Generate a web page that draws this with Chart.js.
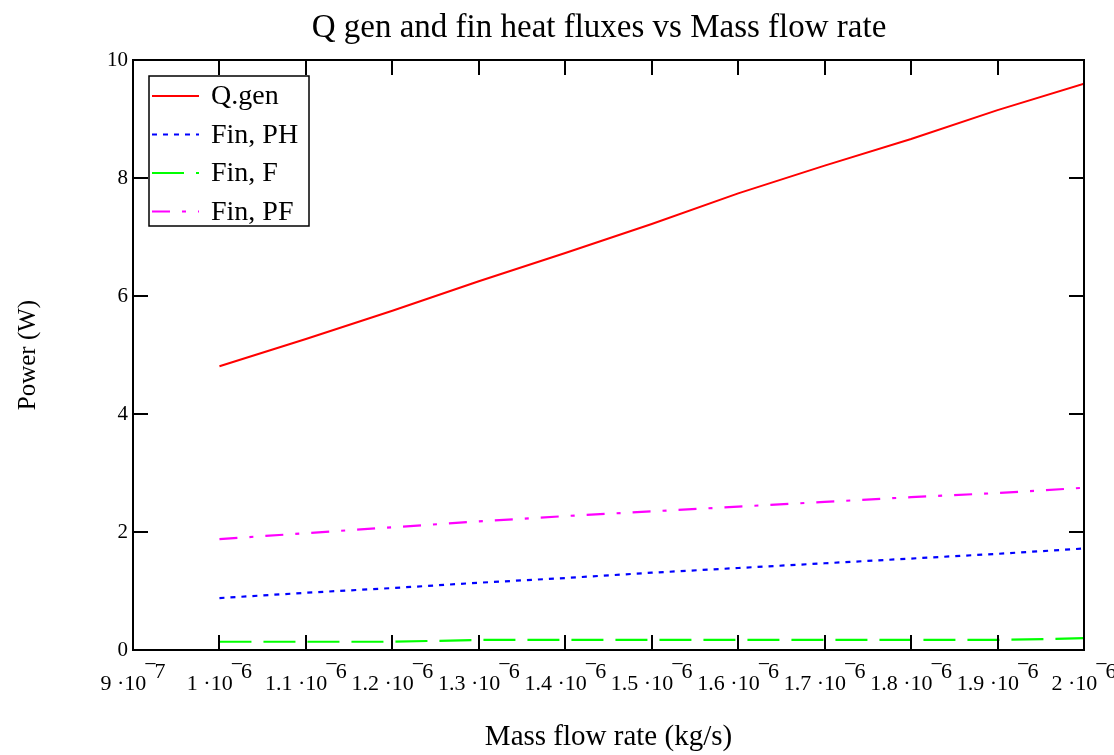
<!DOCTYPE html>
<html lang="en">
<head>
<meta charset="UTF-8">
<title>Q gen and fin heat fluxes vs Mass flow rate</title>
<script src="https://cdn.jsdelivr.net/npm/chart.js"></script>
<style>
    body { margin: 0; background: #ffffff; }
    canvas { display: block; }
</style>
</head>
<body>
<canvas id="fluxChart" width="1114" height="755"></canvas>
<script>
// mass flow rate (kg/s)
const massFlow = [1.0e-6, 1.1e-6, 1.2e-6, 1.3e-6, 1.4e-6, 1.5e-6, 1.6e-6, 1.7e-6, 1.8e-6, 1.9e-6, 2.0e-6];
// power (W)
const qGen  = [4.81, 5.27, 5.75, 6.25, 6.73, 7.22, 7.74, 8.21, 8.66, 9.15, 9.60];
const finPH = [0.88, 0.97, 1.05, 1.14, 1.22, 1.31, 1.39, 1.47, 1.55, 1.63, 1.72];
const finF  = [0.14, 0.14, 0.14, 0.17, 0.17, 0.17, 0.17, 0.17, 0.17, 0.17, 0.20];
const finPF = [1.88, 1.98, 2.08, 2.18, 2.27, 2.35, 2.43, 2.51, 2.59, 2.66, 2.75];

const xTickValues = [9e-7, 1.0e-6, 1.1e-6, 1.2e-6, 1.3e-6, 1.4e-6, 1.5e-6, 1.6e-6, 1.7e-6, 1.8e-6, 1.9e-6, 2.0e-6];
const yTickValues = [0, 2, 4, 6, 8, 10];

const chartTitle = 'Q gen and fin heat fluxes vs Mass flow rate';
const serif = "'Liberation Serif', 'Times New Roman', serif";

function points(vals) {
    return massFlow.map((m, i) => ({ x: m, y: vals[i] }));
}

// title, box, inward ticks, sci-notation x labels and the legend, Mathcad style
const mathcadLook = {
    id: 'mathcadLook',
    afterDatasetsDraw(chart) {
        const ctx = chart.ctx;
        const a = chart.chartArea;
        const xs = chart.scales.x, ys = chart.scales.y;
        ctx.save();

        ctx.fillStyle = '#000';
        ctx.font = '33px ' + serif;
        ctx.textAlign = 'center';
        ctx.textBaseline = 'middle';
        ctx.fillText(chartTitle, 599, 28);

        ctx.strokeStyle = '#000';
        ctx.lineWidth = 2;
        ctx.strokeRect(a.left, a.top, a.right - a.left, a.bottom - a.top);

        ctx.beginPath();
        xs.ticks.forEach(t => {
            const px = Math.round(xs.getPixelForValue(t.value));
            ctx.moveTo(px, a.bottom); ctx.lineTo(px, a.bottom - 15);
            ctx.moveTo(px, a.top); ctx.lineTo(px, a.top + 15);
        });
        ys.ticks.forEach(t => {
            const py = Math.round(ys.getPixelForValue(t.value));
            ctx.moveTo(a.left, py); ctx.lineTo(a.left + 15, py);
            ctx.moveTo(a.right, py); ctx.lineTo(a.right - 15, py);
        });
        ctx.stroke();

        // x tick labels  m·10^-e
        ctx.font = '22px ' + serif;
        ctx.textAlign = 'left';
        ctx.textBaseline = 'alphabetic';
        const base = a.bottom + 40;
        xs.ticks.forEach(t => {
            const e = Math.floor(Math.log10(t.value) + 1e-9);
            const m = parseFloat((t.value / Math.pow(10, e)).toFixed(1));
            const txt = m + ' ·10';
            const minus = '\u2212';
            const dig = String(-e);
            const w1 = ctx.measureText(txt).width;
            const w2 = ctx.measureText(minus).width;
            const w3 = ctx.measureText(dig).width;
            const w = w1 - 2 + w2 - 2 + w3;
            let x0 = xs.getPixelForValue(t.value) - w / 2;
            ctx.fillText(txt, x0, base);
            x0 += w1 - 2;
            ctx.fillText(minus, x0, base - 19);
            x0 += w2 - 2;
            ctx.fillText(dig, x0, base - 12);
        });

        // legend
        const lx = 149, ly = 76, lw = 160, lh = 150;
        ctx.fillStyle = '#fff';
        ctx.fillRect(lx, ly, lw, lh);
        ctx.lineWidth = 1.5;
        ctx.strokeStyle = '#000';
        ctx.strokeRect(lx, ly, lw, lh);
        ctx.font = '28px ' + serif;
        ctx.textBaseline = 'middle';
        chart.data.datasets.forEach((ds, i) => {
            const cy = ly + 20 + i * 38.5;
            ctx.beginPath();
            ctx.setLineDash(ds.borderDash || []);
            ctx.strokeStyle = ds.borderColor;
            ctx.lineWidth = 2;
            ctx.moveTo(lx + 3, cy);
            ctx.lineTo(lx + 50, cy);
            ctx.stroke();
            ctx.setLineDash([]);
            ctx.fillStyle = '#000';
            ctx.fillText(ds.label, lx + 62, cy + 1);
        });
        ctx.restore();
    }
};

const ctx = document.getElementById('fluxChart').getContext('2d');
new Chart(ctx, {
    type: 'line',
    data: {
        datasets: [
            { label: 'Q.gen', data: points(qGen), borderColor: '#ff0000', borderWidth: 2 },
            { label: 'Fin, PH', data: points(finPH), borderColor: '#0000ff', borderWidth: 2.2, borderDash: [5, 6] },
            { label: 'Fin, F', data: points(finF), borderColor: '#00ff00', borderWidth: 2.2, borderDash: [32, 12] },
            { label: 'Fin, PF', data: points(finPF), borderColor: '#ff00ff', borderWidth: 2.2, borderDash: [18, 12, 4, 12] }
        ]
    },
    options: {
        responsive: false,
        animation: false,
        layout: { padding: { left: 0, right: 30, top: 60, bottom: 0 } },
        elements: { point: { radius: 0 }, line: { tension: 0, fill: false } },
        plugins: {
            legend: { display: false },
            tooltip: { enabled: false },
            title: { display: false }
        },
        scales: {
            x: {
                type: 'linear',
                min: 9e-7,
                max: 2e-6,
                afterBuildTicks: s => { s.ticks = xTickValues.map(v => ({ value: v })); },
                afterFit: s => { s.height = 105; },
                grid: { display: false, drawTicks: false },
                border: { display: false },
                ticks: { display: false },
                title: {
                    display: true,
                    text: 'Mass flow rate (kg/s)',
                    color: '#000',
                    font: { family: serif, size: 29 },
                    padding: { top: 0, bottom: 0 }
                }
            },
            y: {
                min: 0,
                max: 10,
                afterBuildTicks: s => { s.ticks = yTickValues.map(v => ({ value: v })); },
                afterFit: s => { s.width = 133; },
                grid: { display: false, drawTicks: false },
                border: { display: false },
                ticks: { color: '#000', font: { family: serif, size: 21 }, padding: 5 },
                title: {
                    display: true,
                    text: 'Power (W)',
                    color: '#000',
                    font: { family: serif, size: 25 },
                    padding: { top: 13, bottom: 0 }
                }
            }
        }
    },
    plugins: [mathcadLook]
});
</script>
</body>
</html>
